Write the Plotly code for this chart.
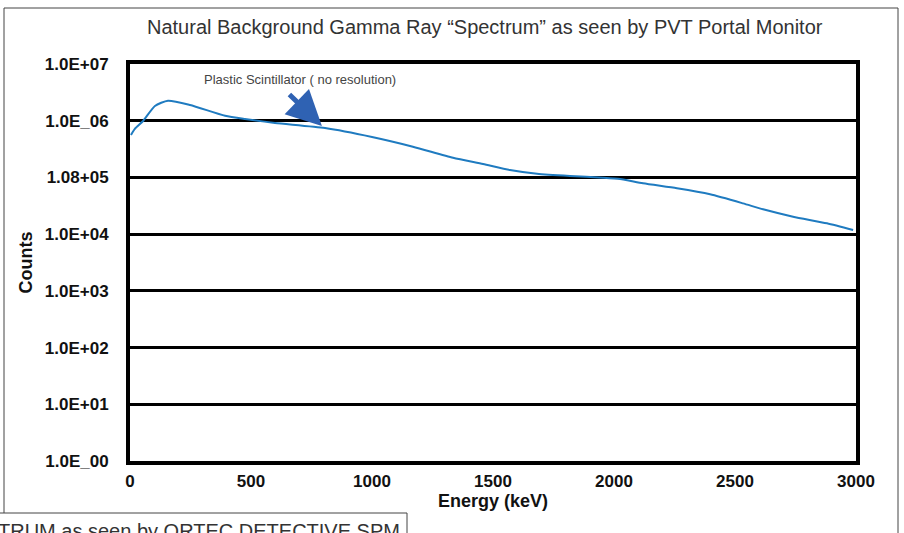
import plotly.graph_objects as go

energy_kev = [4, 20, 54, 103, 157, 248, 393, 475, 599, 806, 1000, 1169, 1335, 1459,
              1570, 1682, 1818, 1955, 2025, 2120, 2260, 2397, 2533, 2616, 2740, 2880, 2988]
counts = [560000, 720000, 990000, 1820000, 2250000, 1890000, 1220000, 1070000, 912000,
          743000, 516000, 348000, 222000, 172000, 135000, 116000, 106000, 98900, 93800,
          78700, 64300, 50400, 34900, 27400, 20300, 15500, 11800]

y_tick_vals = [1, 10, 100, 1000, 10000, 100000, 1000000, 10000000]
y_tick_text = ["1.0E_00", "1.0E+01", "1.0E+02", "1.0E+03", "1.0E+04", "1.08+05", "1.0E_06", "1.0E+07"]
x_tick_vals = [0, 500, 1000, 1500, 2000, 2500, 3000]

W, H = 904, 533
L, R, T, B = 130, 48, 64, 72
pw, ph = W - L - R, H - T - B

def px(x):
    return (x - L) / pw

def py(y):
    return (H - B - y) / ph

fig = go.Figure()
fig.add_trace(go.Scatter(x=energy_kev, y=counts, mode="lines",
                         line=dict(color="#1f7bc0", width=2, shape="spline", smoothing=0.6),
                         showlegend=False))

FONT = "Liberation Sans, Arial, sans-serif"
tickfont = dict(family=FONT, size=17, color="#111", weight="bold")

fig.update_layout(
    width=W, height=H,
    margin=dict(l=L, r=R, t=T, b=B, autoexpand=False),
    paper_bgcolor="white", plot_bgcolor="white",
    xaxis=dict(range=[0, 3000], tickvals=x_tick_vals, showgrid=False, zeroline=False,
               showline=True, linecolor="black", linewidth=4, mirror=True,
               ticks="", tickfont=tickfont, ticklabelstandoff=2,
               title=dict(text="<b>Energy (keV)</b>", standoff=4,
                          font=dict(family=FONT, size=18, color="#111"))),
    yaxis=dict(type="log", range=[0, 7], tickvals=y_tick_vals, ticktext=y_tick_text,
               showgrid=True, gridcolor="black", gridwidth=3, zeroline=False,
               showline=True, linecolor="black", linewidth=4, mirror=True,
               ticks="", tickfont=tickfont, ticklabelstandoff=14,
               title=dict(text="<b>Counts</b>", standoff=8,
                          font=dict(family=FONT, size=18, color="#111"))),
    font=dict(family=FONT),
)

# title
fig.add_annotation(xref="paper", yref="paper", x=px(485), y=py(27), xanchor="center", yanchor="middle",
                   text="Natural Background Gamma Ray \u201cSpectrum\u201d as seen by PVT Portal Monitor",
                   showarrow=False,
                   font=dict(family="Liberation Sans Narrow, Arial Narrow, sans-serif", size=20, color="#333"))

# label
fig.add_annotation(x=702, y=6.72, xanchor="center", yanchor="middle",
                   text="Plastic Scintillator ( no resolution)", showarrow=False,
                   font=dict(family="Liberation Sans Narrow, Arial Narrow, sans-serif", size=13, color="#444"))

# arrow
fig.add_annotation(x=793, y=5.907, ax=-34, ay=-33, text="", showarrow=True,
                   arrowhead=2, arrowsize=1.4, arrowwidth=5, arrowcolor="#2f62b3")

# outer frame lines (scanned page)
frame = dict(color="#444", width=1)
fig.add_shape(type="line", xref="paper", yref="paper", x0=px(4), y0=py(8), x1=px(898), y1=py(8), line=frame)
fig.add_shape(type="line", xref="paper", yref="paper", x0=px(4), y0=py(8), x1=px(4), y1=py(513), line=frame)
fig.add_shape(type="line", xref="paper", yref="paper", x0=px(898), y0=py(8), x1=px(898), y1=py(540), line=frame)
fig.add_shape(type="line", xref="paper", yref="paper", x0=px(0), y0=py(513), x1=px(407), y1=py(513), line=frame)
fig.add_shape(type="line", xref="paper", yref="paper", x0=px(407), y0=py(513), x1=px(407), y1=py(540), line=frame)

fig.add_annotation(xref="paper", yref="paper", x=px(-4), y=py(518), xanchor="left", yanchor="top",
                   text="TRUM as seen by ORTEC DETECTIVE SPM", showarrow=False,
                   font=dict(family=FONT, size=20, color="#333"))

fig.write_html("out.html", config={"displayModeBar": False},
               post_script="document.body.style.margin='0';document.body.style.overflow='hidden';")
